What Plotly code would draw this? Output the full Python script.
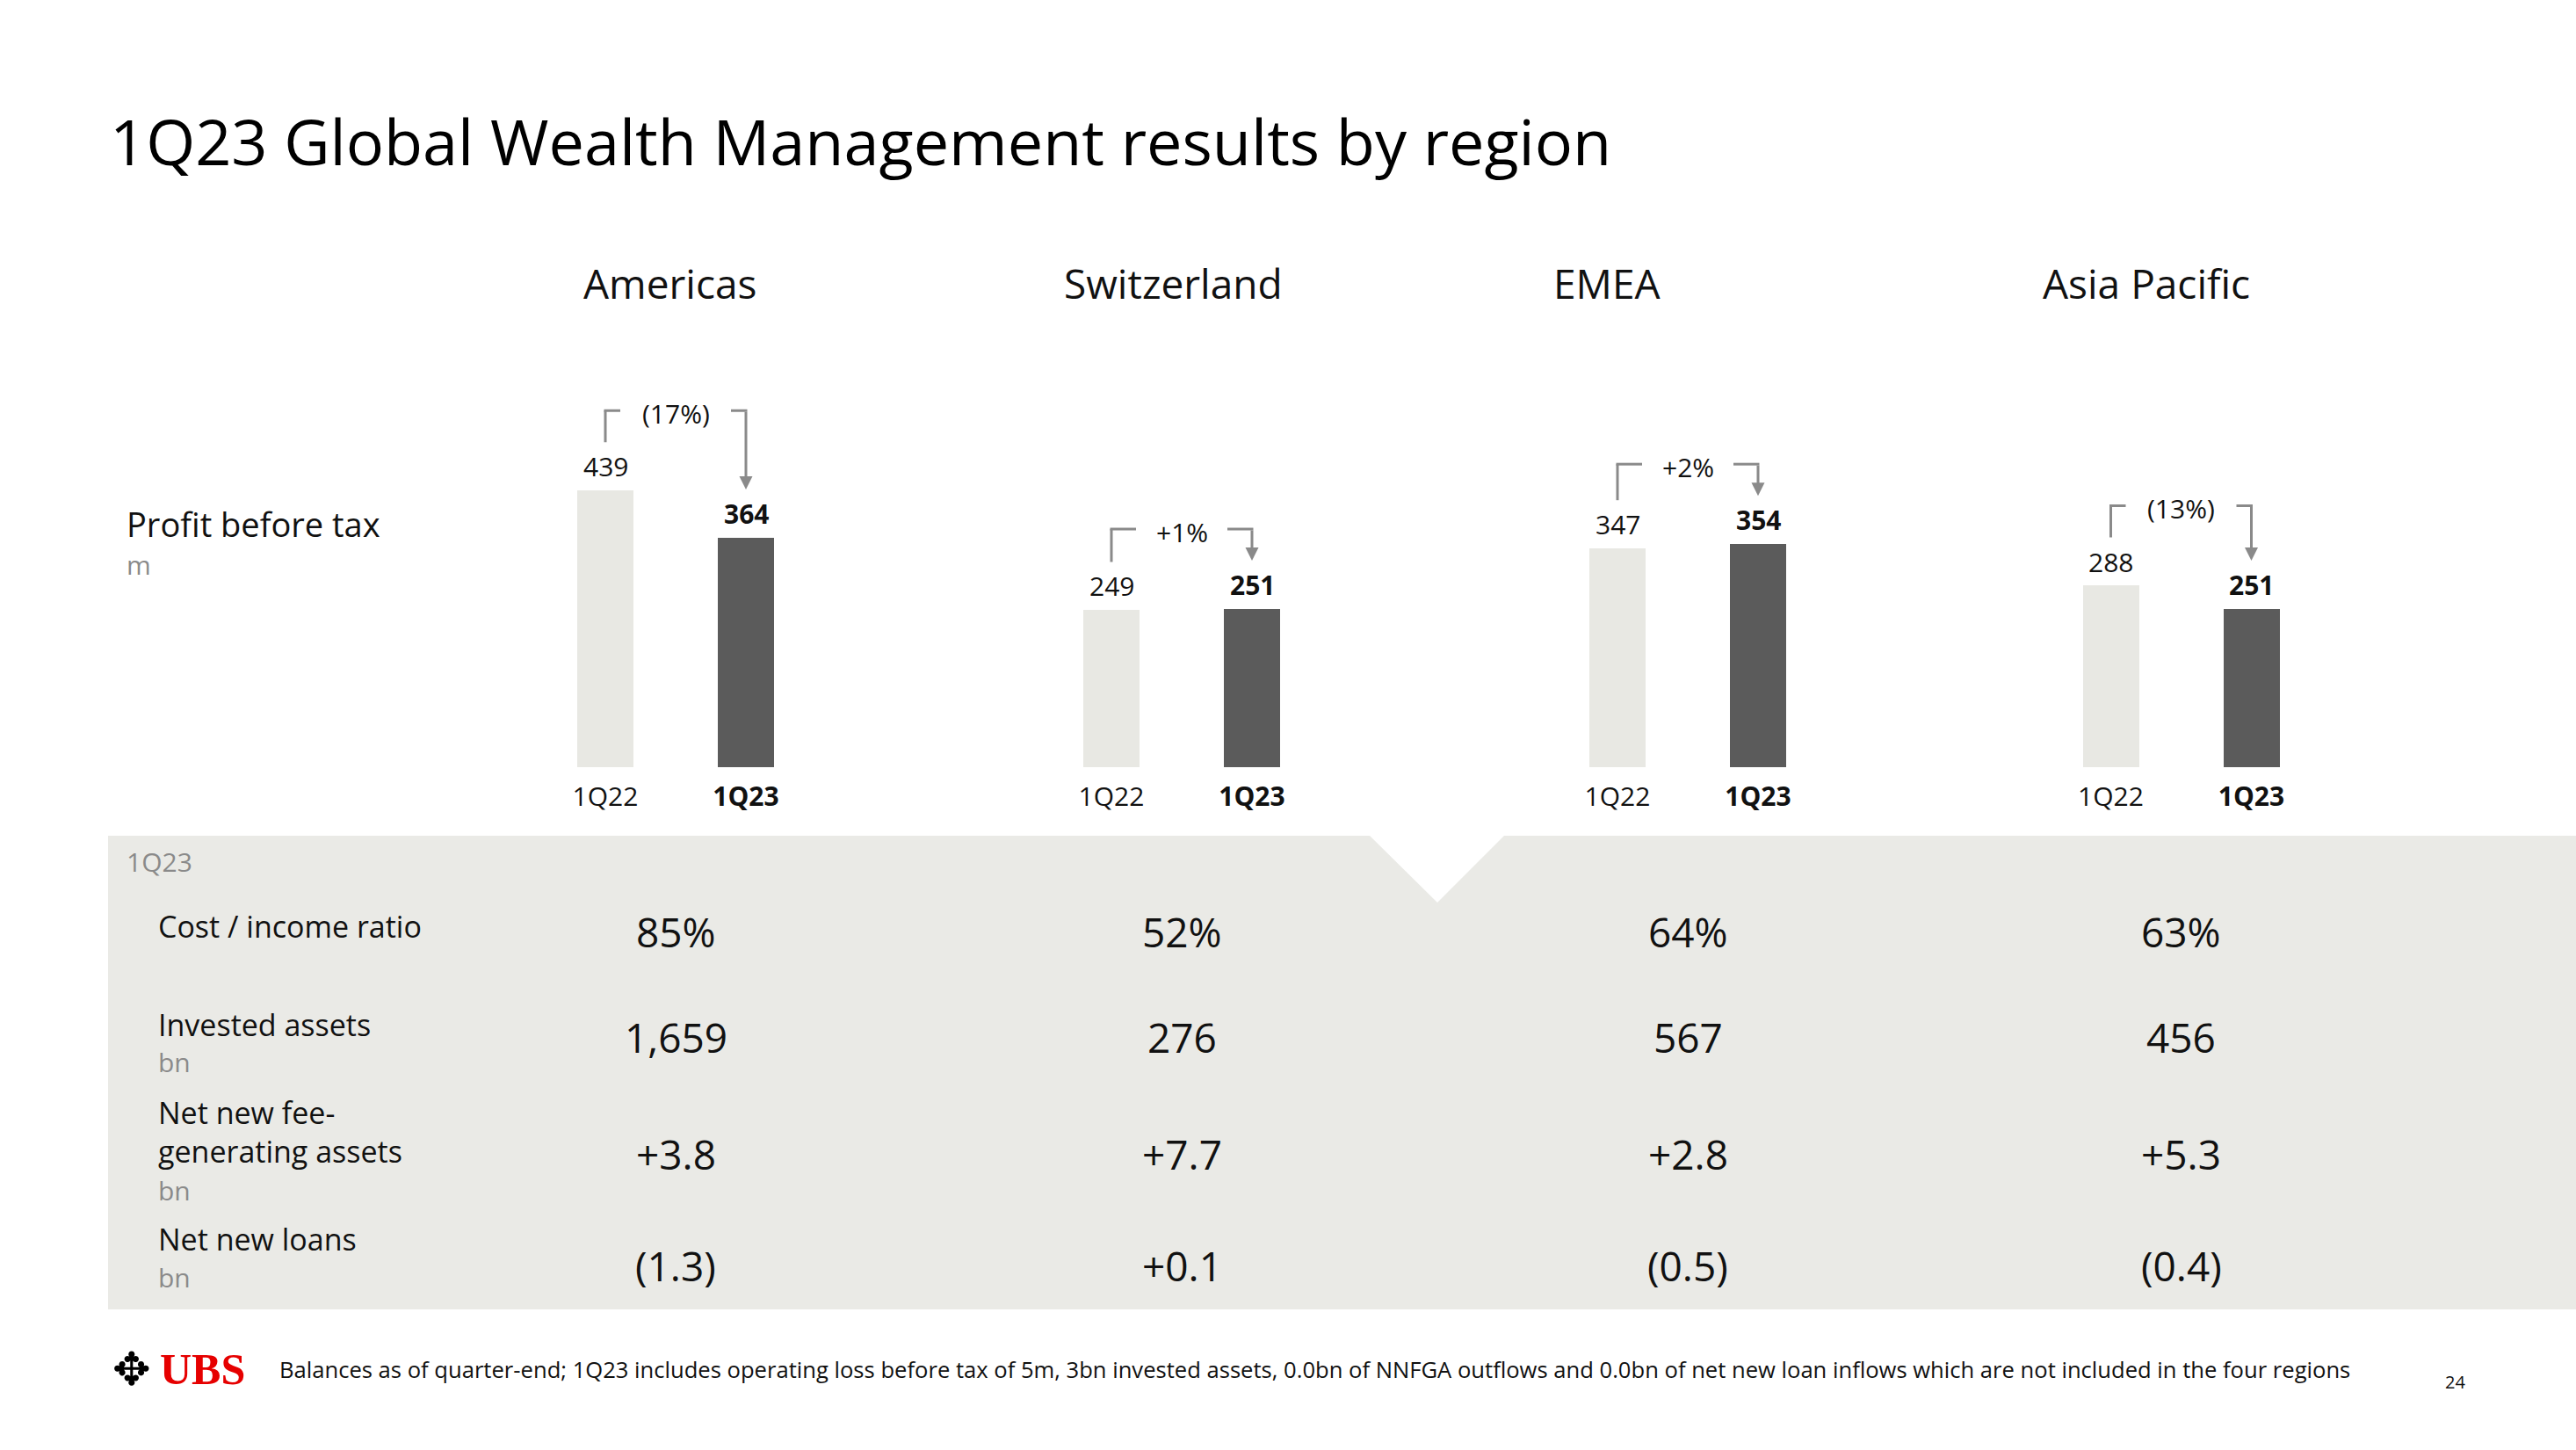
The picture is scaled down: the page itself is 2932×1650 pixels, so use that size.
import plotly.graph_objects as go

# ---------------- data ----------------
regions = ["Americas", "Switzerland", "EMEA", "Asia Pacific"]
periods = ["1Q22", "1Q23"]
pbt_1q22 = [439, 249, 347, 288]
pbt_1q23 = [364, 251, 354, 251]
pbt_change = ["(17%)", "+1%", "+2%", "(13%)"]

row_labels = ["Cost / income ratio", "Invested assets", "Net new fee-<br>generating assets", "Net new loans"]
row_units = ["", "bn", "bn", "bn"]
cost_income = ["85%", "52%", "64%", "63%"]
invested_assets = ["1,659", "276", "567", "456"]
nnfga = ["+3.8", "+7.7", "+2.8", "+5.3"]
net_new_loans = ["(1.3)", "+0.1", "(0.5)", "(0.4)"]

title = "1Q23 Global Wealth Management results by region"
footnote = ("Balances as of quarter-end; 1Q23 includes operating loss before tax of 5m, 3bn invested assets, "
            "0.0bn of NNFGA outflows and 0.0bn of net new loan inflows which are not included in the four regions")

# ---------------- layout constants ----------------
W, H = 2932, 1650
FONT = "Open Sans"
TXT = "#111111"
GRAY = "#8a8a8a"
LIGHT = "#e8e8e3"
DARK = "#5b5b5b"
BAND = "#eaeae6"

group_center_px = [769, 1345, 1921, 2482.5]
header_px = [762, 1335, 1829, 2443]
Y_BOTTOM_PX = 873
Y_MAX = 620
PX_PER_UNIT = 0.717
y_top_px = Y_BOTTOM_PX - Y_MAX * PX_PER_UNIT


def fx(px):
    return px / W


def fy(px):
    return 1 - px / H


fig = go.Figure()
annotations = []
shapes = []
axes = {}

# grey table band with notch
band_path = (f"M {fx(123)},{fy(951)} L {fx(1559)},{fy(951)} L {fx(1636)},{fy(1027)} "
             f"L {fx(1712)},{fy(951)} L {fx(W)},{fy(951)} L {fx(W)},{fy(1490)} L {fx(123)},{fy(1490)} Z")
shapes.append(dict(type="path", path=band_path, xref="paper", yref="paper",
                   fillcolor=BAND, line=dict(width=0), layer="below"))

off_leg = 55 / PX_PER_UNIT
off_top = 91 / PX_PER_UNIT

table_rows = [cost_income, invested_assets, nnfga, net_new_loans]
row_value_y = [1060, 1180, 1313, 1440]

for i, reg in enumerate(regions):
    xa = "x" if i == 0 else f"x{i + 1}"
    xname = "xaxis" if i == 0 else f"xaxis{i + 1}"
    v1, v2 = pbt_1q22[i], pbt_1q23[i]
    fig.add_trace(go.Bar(x=periods, y=[v1, v2], marker=dict(color=[LIGHT, DARK], line=dict(width=0)),
                         width=0.4, xaxis=xa, yaxis="y", hoverinfo="skip", showlegend=False))
    c = group_center_px[i]
    axes[xname] = dict(domain=[fx(c - 160), fx(c + 160)], range=[-0.5, 1.5], type="category",
                       anchor="y", showgrid=False, zeroline=False, showline=False,
                       tickmode="array", tickvals=periods, ticktext=["1Q22", "<b>1Q23</b>"],
                       tickfont=dict(size=30, color=TXT, family=FONT), ticks="",
                       ticklabelstandoff=13, fixedrange=True)

    # value labels
    annotations.append(dict(xref=xa, yref="y", x=periods[0], y=v1, text=str(v1), showarrow=False,
                            yanchor="bottom", yshift=5, font=dict(size=30, color=TXT, family=FONT)))
    annotations.append(dict(xref=xa, yref="y", x=periods[1], y=v2, text=f"<b>{v2}</b>", showarrow=False,
                            yanchor="bottom", yshift=5, font=dict(size=30, color=TXT, family=FONT)))

    # bracket
    vmax = max(v1, v2)
    top = vmax + off_top
    seg = 17 if len(pbt_change[i]) >= 5 else 28
    shapes.append(dict(type="line", xref=xa, yref="y", x0=periods[0], x1=periods[0],
                       y0=v1 + off_leg, y1=top, line=dict(color=GRAY, width=3)))
    shapes.append(dict(type="line", xref=xa, yref="y", xsizemode="pixel", xanchor=periods[0],
                       x0=-1.5, x1=seg, y0=top, y1=top, line=dict(color=GRAY, width=3)))
    shapes.append(dict(type="line", xref=xa, yref="y", xsizemode="pixel", xanchor=periods[1],
                       x0=-seg, x1=1.5, y0=top, y1=top, line=dict(color=GRAY, width=3)))
    annotations.append(dict(xref=xa, yref="y", x=periods[1], y=v2 + off_leg,
                            axref=xa, ayref="y", ax=periods[1], ay=top, text="",
                            showarrow=True, arrowhead=2, arrowsize=1, arrowwidth=3,
                            arrowcolor=GRAY, standoff=0, startstandoff=0))
    annotations.append(dict(xref=xa, yref="y", x=0.5, y=top, text=pbt_change[i], showarrow=False,
                            yanchor="middle", yshift=-3, font=dict(size=30, color=TXT, family=FONT)))

    # region header
    annotations.append(dict(xref="paper", yref="paper", x=fx(header_px[i]), y=fy(322), text=reg,
                            showarrow=False, xanchor="center", yanchor="middle",
                            font=dict(size=46, color=TXT, family=FONT)))

    # table values
    for r, row in enumerate(table_rows):
        annotations.append(dict(xref=xa, yref="paper", x=0.5, y=fy(row_value_y[r]), text=row[i],
                                showarrow=False, xanchor="center", yanchor="middle",
                                font=dict(size=46, color=TXT, family=FONT)))

# title
annotations.append(dict(xref="paper", yref="paper", x=fx(123), y=fy(160), text=title, showarrow=False,
                        xanchor="left", yanchor="middle", font=dict(size=72, color="#000000", family=FONT)))

# left labels
annotations.append(dict(xref="paper", yref="paper", x=fx(142), y=fy(596), text="Profit before tax",
                        showarrow=False, xanchor="left", yanchor="middle",
                        font=dict(size=38, color=TXT, family=FONT)))
annotations.append(dict(xref="paper", yref="paper", x=fx(142), y=fy(642), text="m",
                        showarrow=False, xanchor="left", yanchor="middle",
                        font=dict(size=30, color=GRAY, family=FONT)))
annotations.append(dict(xref="paper", yref="paper", x=fx(142), y=fy(980), text="1Q23",
                        showarrow=False, xanchor="left", yanchor="middle",
                        font=dict(size=30, color=GRAY, family=FONT)))

label_y = [1054, 1166, 1288, 1410]
unit_y = [None, 1208, 1354, 1453]
for r in range(4):
    annotations.append(dict(xref="paper", yref="paper", x=fx(178), y=fy(label_y[r]), text=row_labels[r],
                            showarrow=False, xanchor="left", yanchor="middle", align="left",
                            font=dict(size=34, color=TXT, family=FONT)))
    if row_units[r]:
        annotations.append(dict(xref="paper", yref="paper", x=fx(178), y=fy(unit_y[r]), text=row_units[r],
                                showarrow=False, xanchor="left", yanchor="middle",
                                font=dict(size=30, color=GRAY, family=FONT)))

# footer: logo emblem + wordmark
annotations.append(dict(xref="paper", yref="paper", x=fx(150), y=fy(1558), text="\u2725",
                        showarrow=False, xanchor="center", yanchor="middle",
                        font=dict(size=52, color="#000000", family="DejaVu Sans")))
annotations.append(dict(xref="paper", yref="paper", x=fx(180), y=fy(1558), text="<b>UBS</b>",
                        showarrow=False, xanchor="left", yanchor="middle",
                        font=dict(size=50, color="#e60000", family="Liberation Serif")))
annotations.append(dict(xref="paper", yref="paper", x=fx(316), y=fy(1558), text=footnote,
                        showarrow=False, xanchor="left", yanchor="middle",
                        font=dict(size=25.6, color=TXT, family=FONT)))
annotations.append(dict(xref="paper", yref="paper", x=fx(2794), y=fy(1572), text="24",
                        showarrow=False, xanchor="center", yanchor="middle",
                        font=dict(size=20, color=TXT, family=FONT)))

fig.update_layout(
    width=W, height=H, margin=dict(l=0, r=0, t=0, b=0),
    paper_bgcolor="white", plot_bgcolor="rgba(0,0,0,0)",
    font=dict(family=FONT, color=TXT),
    yaxis=dict(domain=[fy(Y_BOTTOM_PX), fy(y_top_px)], range=[0, Y_MAX], visible=False,
               anchor="x", fixedrange=True),
    annotations=annotations, shapes=shapes, showlegend=False, bargap=0,
    **axes,
)

fig.write_html("out.html")
